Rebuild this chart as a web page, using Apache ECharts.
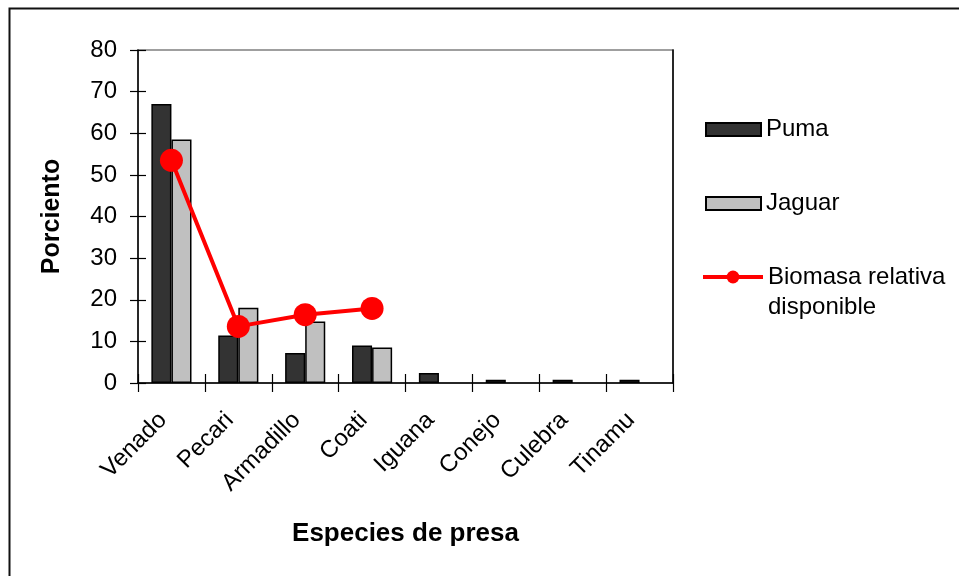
<!DOCTYPE html>
<html>
<head>
<meta charset="utf-8">
<script src="https://cdn.jsdelivr.net/npm/echarts@6/dist/echarts.min.js"></script>
<style>html,body{margin:0;padding:0;background:#fff}#c{width:959px;height:576px}</style>
</head>
<body>
<div id="c"></div>
<script>
const categories = ['Venado', 'Pecari', 'Armadillo', 'Coati', 'Iguana', 'Conejo', 'Culebra', 'Tinamu'];
const puma = [67.0, 11.4, 7.2, 9.0, 2.4, 0.8, 0.8, 0.8];
const jaguar = [58.5, 18.1, 14.8, 8.5, null, null, null, null];
const biomasa = [53.5, 13.6, 16.4, 17.9, null, null, null, null];
const yTicks = { min: 0, max: 80, interval: 10 };

const FONT = '"Liberation Sans", Arial, sans-serif';
const chart = echarts.init(document.getElementById('c'), null, { renderer: 'canvas' });

const option = {
  backgroundColor: '#fff',
  animation: false,
  textStyle: { fontFamily: FONT, color: '#000' },
  grid: { left: 138, right: 286, top: 50, bottom: 193, show: true, borderColor: '#808080', borderWidth: 1.5, backgroundColor: 'transparent' },
  graphic: [{
    type: 'rect', left: 7, top: 6, silent: true,
    shape: { width: 1100, height: 1000 },
    style: { fill: 'none', stroke: '#111', lineWidth: 2 }
  }],
  legend: [
    {
      data: ['Puma'], left: 705, top: 114.5, orient: 'vertical', padding: 0,
      itemWidth: 55, itemHeight: 13, icon: 'rect', itemGap: 0,
      textStyle: { fontFamily: FONT, fontSize: 24, color: '#000', lineHeight: 30 }
    },
    {
      data: ['Jaguar'], left: 705, top: 188.5, orient: 'vertical', padding: 0,
      itemWidth: 55, itemHeight: 13, icon: 'rect', itemGap: 0,
      textStyle: { fontFamily: FONT, fontSize: 24, color: '#000', lineHeight: 30 }
    },
    {
      data: ['Biomasa relativa disponible'], left: 701, top: 232, orient: 'vertical', padding: 0,
      itemWidth: 60, itemHeight: 16, itemGap: 0,
      lineStyle: { width: 4, color: '#FF0000' },
      formatter: function () { return '\nBiomasa relativa\ndisponible'; },
      textStyle: { fontFamily: FONT, fontSize: 24, color: '#000', lineHeight: 30 }
    }
  ],
  xAxis: [
    {
      type: 'category', data: categories, position: 'bottom',
      axisLine: { show: true, lineStyle: { color: '#000', width: 1.5 } },
      axisTick: { show: true, inside: false, length: 9, lineStyle: { color: '#000', width: 1.2 } },
      axisLabel: { rotate: 45, fontSize: 24, color: '#000', fontFamily: FONT, margin: 25, interval: 0, padding: [0, 12, 0, 0] },
      name: 'Especies de presa', nameLocation: 'middle', nameGap: 138,
      nameTextStyle: { fontSize: 26, fontWeight: 'bold', color: '#000', fontFamily: FONT },
      splitLine: { show: false }
    },
    {
      type: 'category', data: categories, position: 'bottom',
      axisLine: { show: false },
      axisTick: { show: true, inside: true, length: 9, lineStyle: { color: '#000', width: 1.2 } },
      axisLabel: { show: false }, splitLine: { show: false }
    }
  ],
  yAxis: [
    {
      type: 'value', min: yTicks.min, max: yTicks.max, interval: yTicks.interval, position: 'left',
      axisLine: { show: true, lineStyle: { color: '#000', width: 1.5 } },
      axisTick: { show: true, inside: false, length: 8, lineStyle: { color: '#000', width: 1.2 } },
      axisLabel: { fontSize: 24, color: '#000', fontFamily: FONT, margin: 21 },
      splitLine: { show: false },
      name: 'Porciento', nameLocation: 'middle', nameGap: 73, nameRotate: 90,
      nameTextStyle: { fontSize: 25, fontWeight: 'bold', color: '#000', fontFamily: FONT }
    },
    {
      type: 'value', min: yTicks.min, max: yTicks.max, interval: yTicks.interval, position: 'left',
      axisLine: { show: false },
      axisTick: { show: true, inside: true, length: 8, lineStyle: { color: '#000', width: 1.2 } },
      axisLabel: { show: false }, splitLine: { show: false }
    },
    {
      type: 'value', min: yTicks.min, max: yTicks.max, interval: yTicks.interval, position: 'right',
      axisLine: { show: true, lineStyle: { color: '#000', width: 1.5 } },
      axisTick: { show: false }, axisLabel: { show: false }, splitLine: { show: false }
    }
  ],
  series: [
    {
      name: 'Puma', type: 'bar', data: puma, barWidth: '30%', barGap: '0%',
      itemStyle: { color: '#333333', borderColor: '#000', borderWidth: 1.5 }
    },
    {
      name: 'Jaguar', type: 'bar', data: jaguar, barWidth: '30%', barGap: '0%',
      itemStyle: { color: '#C0C0C0', borderColor: '#000', borderWidth: 1.5 }
    },
    {
      name: 'Biomasa relativa disponible', type: 'line', data: biomasa,
      symbol: 'circle', symbolSize: 23, connectNulls: false,
      lineStyle: { color: '#FF0000', width: 4 },
      itemStyle: { color: '#FF0000' }, z: 5
    }
  ]
};
chart.setOption(option);
</script>
</body>
</html>
